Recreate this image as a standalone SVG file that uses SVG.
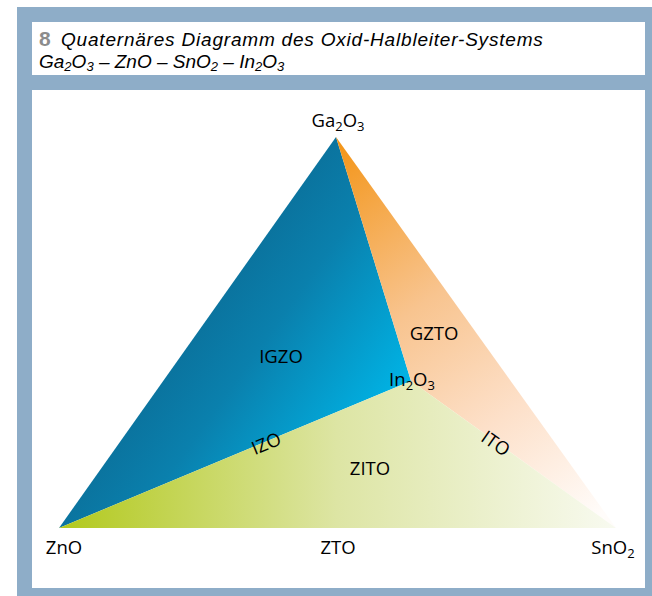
<svg xmlns="http://www.w3.org/2000/svg" width="652" height="596" viewBox="0 0 652 596">
  <style>
    .lbl { font-family: "Open Sans", "Liberation Sans", sans-serif; font-size: 18.5px; fill: #000; }
    .sub { font-size: 13px; }
    .title { font-family: "Liberation Sans", "Open Sans", sans-serif; font-size: 19px; font-style: italic; fill: #000; }
    .tsub { font-size: 13px; }
    .num { font-family: "Liberation Sans", "Open Sans", sans-serif; font-size: 21px; font-weight: bold; fill: #8c8c8c; }
  </style>
  <defs>
    <linearGradient id="gBlue" gradientUnits="userSpaceOnUse" x1="200" y1="230" x2="411" y2="381">
      <stop offset="0" stop-color="#0b6891"/>
      <stop offset="0.45" stop-color="#0a80ad"/>
      <stop offset="1" stop-color="#00b4e6"/>
    </linearGradient>
    <linearGradient id="gOrange" gradientUnits="userSpaceOnUse" x1="336" y1="140" x2="600" y2="515">
      <stop offset="0" stop-color="#f39416"/>
      <stop offset="0.4" stop-color="#f8c48f"/>
      <stop offset="0.7" stop-color="#fde0c9"/>
      <stop offset="1" stop-color="#fffcfa"/>
    </linearGradient>
    <linearGradient id="gGreen" gradientUnits="userSpaceOnUse" x1="59" y1="0" x2="616" y2="0">
      <stop offset="0" stop-color="#b2c91c"/>
      <stop offset="0.5" stop-color="#dde5a4"/>
      <stop offset="1" stop-color="#f8faf0"/>
    </linearGradient>
  </defs>

  <!-- frame -->
  <rect x="17" y="7" width="635" height="589" fill="#8eadc8"/>
  <rect x="32" y="22" width="613" height="53" fill="#ffffff"/>
  <rect x="32" y="90" width="613" height="498" fill="#ffffff"/>

  <!-- heading -->
  <g id="heading">
    <text class="num" x="39" y="46">8</text>
    <text class="title" x="61" y="46" letter-spacing="0.8">Quaternäres Diagramm des Oxid-Halbleiter-Systems</text>
    <text class="title" x="39" y="68">Ga<tspan class="tsub" dy="3">2</tspan><tspan dy="-3">O</tspan><tspan class="tsub" dy="3">3</tspan><tspan dy="-3"> – ZnO – SnO</tspan><tspan class="tsub" dy="3">2</tspan><tspan dy="-3"> – In</tspan><tspan class="tsub" dy="3">2</tspan><tspan dy="-3">O</tspan><tspan class="tsub" dy="3">3</tspan></text>
  </g>

  <!-- regions of the diagram -->
  <g id="regions">
    <polygon id="igzo" points="336,137 59,528 411,381" fill="url(#gBlue)"/>
    <polygon id="gzto" points="336,137 411,381 616,528" fill="url(#gOrange)"/>
    <polygon id="zito" points="59,528 411,381 616,528" fill="url(#gGreen)"/>
  </g>

  <!-- corner and region labels -->
  <g id="labels">
    <text class="lbl" x="338" y="127" text-anchor="middle">Ga<tspan class="sub" dy="4">2</tspan><tspan dy="-4">O</tspan><tspan class="sub" dy="4">3</tspan></text>
    <text class="lbl" x="281" y="363" text-anchor="middle">IGZO</text>
    <text class="lbl" x="434" y="340" text-anchor="middle">GZTO</text>
    <text class="lbl" x="412" y="386" text-anchor="middle">In<tspan class="sub" dy="4">2</tspan><tspan dy="-4">O</tspan><tspan class="sub" dy="4">3</tspan></text>
    <text class="lbl" x="266" y="450" text-anchor="middle" transform="rotate(-22 266 443)">IZO</text>
    <text class="lbl" x="370" y="475" text-anchor="middle">ZITO</text>
    <text class="lbl" x="496" y="450" text-anchor="middle" transform="rotate(35 496 443)">ITO</text>
    <text class="lbl" x="64" y="554" text-anchor="middle">ZnO</text>
    <text class="lbl" x="338" y="554" text-anchor="middle">ZTO</text>
    <text class="lbl" x="613" y="554" text-anchor="middle">SnO<tspan class="sub" dy="4">2</tspan></text>
  </g>
</svg>
